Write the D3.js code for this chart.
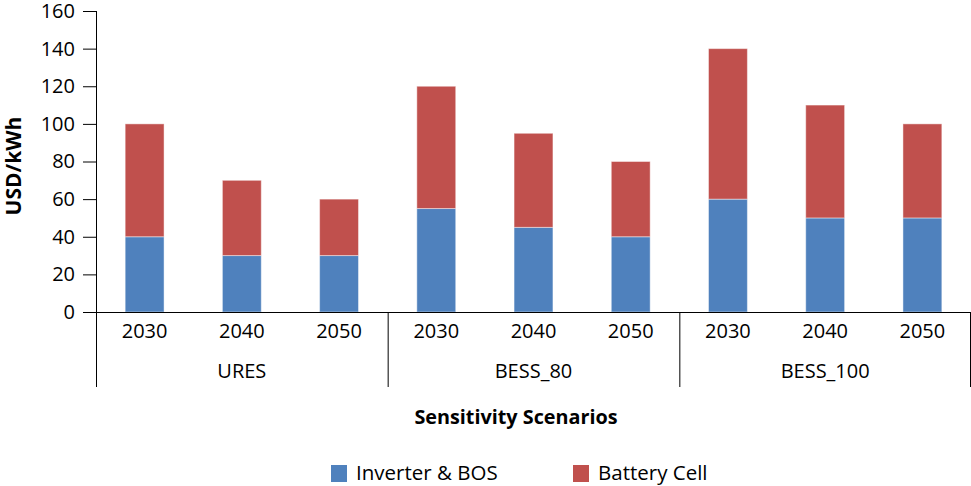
<!DOCTYPE html>
<html>
<head>
<meta charset="utf-8">
<script src="https://cdn.jsdelivr.net/npm/d3@7"></script>
<style>
  html, body { margin: 0; padding: 0; background: #fff; }
  svg { display: block; font-family: "Open Sans", "Noto Sans", sans-serif; }
</style>
</head>
<body>
<svg id="chart" width="971" height="486"></svg>
<script>
// Scenario groups and years along the x axis
const scenarios = ["URES", "BESS_80", "BESS_100"];
const years = ["2030", "2040", "2050"];
// Cost components, USD/kWh, one entry per (scenario, year)
const inverterBOS = [40, 30, 30, 55, 45, 40, 60, 50, 50];
const batteryCell = [60, 40, 30, 65, 50, 40, 80, 60, 50];
const seriesNames = ["Inverter & BOS", "Battery Cell"];
const seriesColors = ["#4F81BD", "#C0504D"];
const yTicks = [0, 20, 40, 60, 80, 100, 120, 140, 160];

const svg = d3.select("#chart");
const plotLeft = 96, plotRight = 971, plotTop = 11, plotBottom = 312;

const rows = [];
scenarios.forEach((s, i) => years.forEach((yr, j) => {
  const k = i * years.length + j;
  rows.push({ key: s + "|" + yr, scenario: s, year: yr, inv: inverterBOS[k], bat: batteryCell[k] });
}));

const x = d3.scaleBand().domain(rows.map(r => r.key)).range([plotLeft, plotRight]).paddingInner(0.6).paddingOuter(0.3);
const bandFull = (plotRight - plotLeft) / rows.length;
const y = d3.scaleLinear().domain([0, 160]).range([plotBottom, plotTop]);

const layers = d3.stack().keys(["inv", "bat"])(rows);

svg.append("g").selectAll("g").data(layers).join("g")
  .attr("fill", (d, i) => seriesColors[i])
  .selectAll("rect").data(d => d).join("rect")
  .attr("x", d => x(d.data.key))
  .attr("width", x.bandwidth())
  .attr("y", d => y(d[1]))
  .attr("height", d => y(d[0]) - y(d[1]))
  .attr("stroke", "rgba(255,255,255,0.45)")
  .attr("stroke-width", 1);

// Y axis
const yAxis = svg.append("g").attr("transform", `translate(${plotLeft},0)`)
  .call(d3.axisLeft(y).tickValues(yTicks).tickSize(13).tickPadding(8));
yAxis.select(".domain").remove();
yAxis.selectAll("line").attr("stroke", "#000");
yAxis.selectAll("text").attr("font-size", 20).attr("fill", "#000")
  .attr("font-family", "'Open Sans', sans-serif");

// Axis lines
svg.append("line").attr("x1", plotLeft + 0.5).attr("x2", plotLeft + 0.5).attr("y1", plotTop).attr("y2", 387)
  .attr("stroke", "#000");
svg.append("line").attr("x1", plotLeft).attr("x2", plotRight).attr("y1", plotBottom + 0.5).attr("y2", plotBottom + 0.5)
  .attr("stroke", "#000");

// Group dividers and scenario labels below the axis
scenarios.forEach((s, i) => {
  const xe = Math.min(plotLeft + bandFull * years.length * (i + 1), plotRight - 1);
  svg.append("line").attr("x1", xe + 0.5).attr("x2", xe + 0.5)
    .attr("y1", plotBottom).attr("y2", 387).attr("stroke", "#000");
  svg.append("text").attr("x", plotLeft + bandFull * years.length * (i + 0.5)).attr("y", 378)
    .attr("text-anchor", "middle").attr("font-size", 20).text(s);
});

// Year labels
svg.append("g").selectAll("text").data(rows).join("text")
  .attr("x", d => x(d.key) + x.bandwidth() / 2).attr("y", 338)
  .attr("text-anchor", "middle").attr("font-size", 20).text(d => d.year);

// Axis titles
svg.append("text").attr("transform", "translate(21,166) rotate(-90)")
  .attr("text-anchor", "middle").attr("font-size", 21).attr("font-weight", "bold").text("USD/kWh");
svg.append("text").attr("x", 516).attr("y", 424).attr("text-anchor", "middle")
  .attr("font-size", 19.8).attr("font-weight", "bold").text("Sensitivity Scenarios");

// Legend
const legendX = [331, 573];
seriesNames.forEach((n, i) => {
  svg.append("rect").attr("x", legendX[i]).attr("y", 465).attr("width", 16).attr("height", 17)
    .attr("fill", seriesColors[i]);
  svg.append("text").attr("x", legendX[i] + 25).attr("y", 480).attr("font-size", 20.5).text(n);
});
</script>
</body>
</html>
